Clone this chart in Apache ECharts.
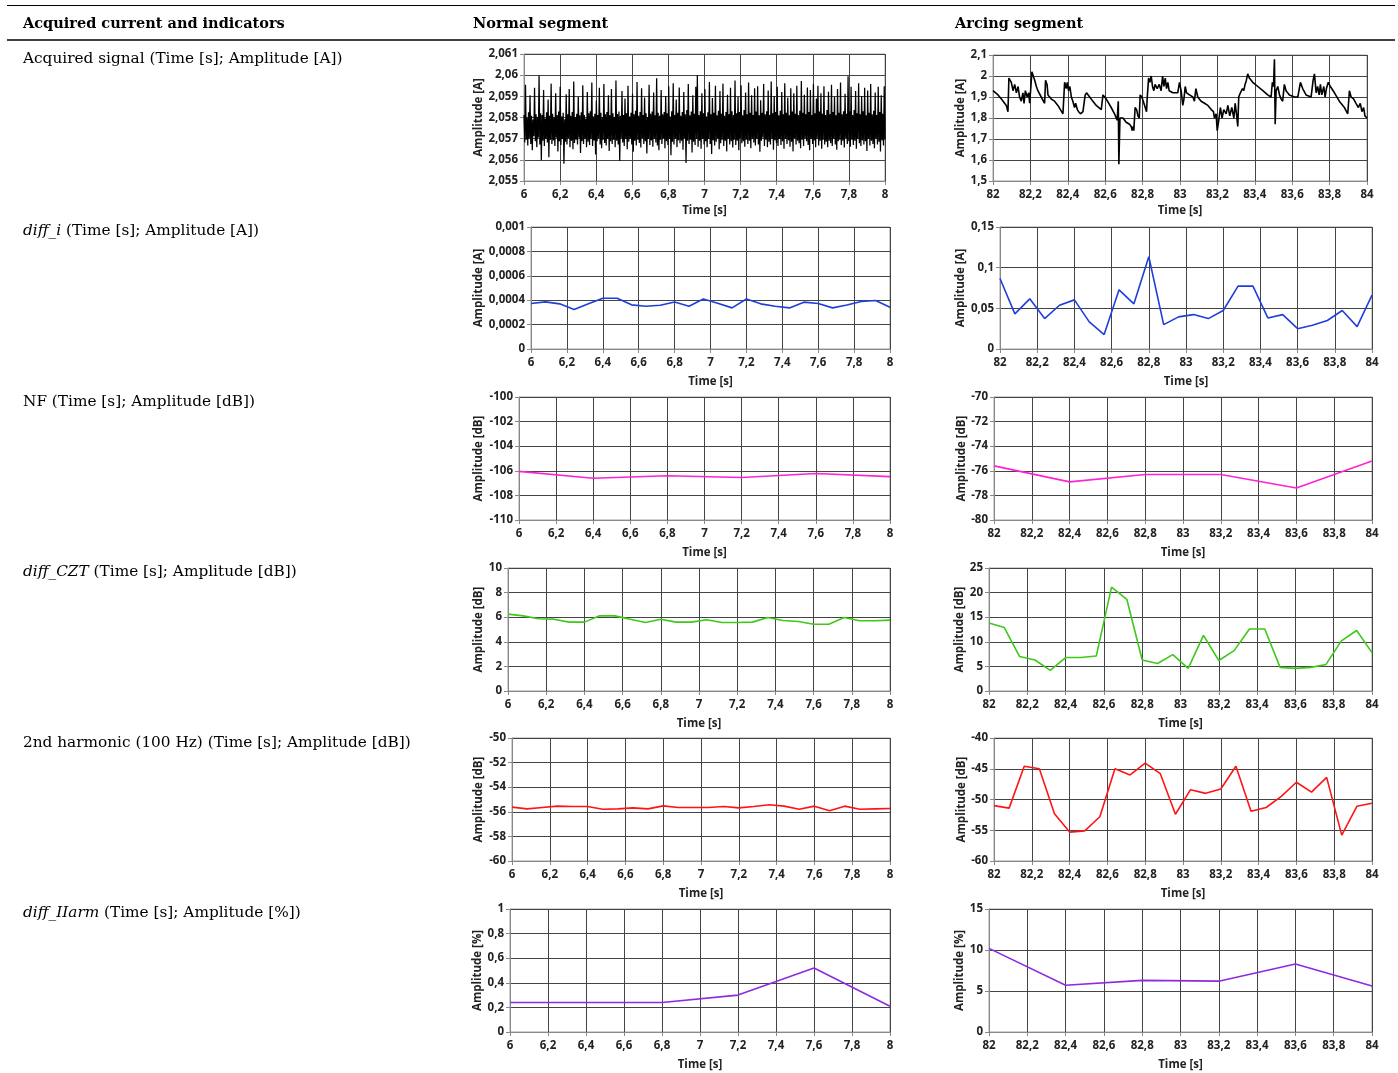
<!DOCTYPE html>
<html><head><meta charset="utf-8">
<script src="https://cdn.jsdelivr.net/npm/echarts/dist/echarts.min.js"></script>
<style>html,body{margin:0;padding:0;background:#fff}#c{width:1398px;height:1073px}</style>
</head><body><div id="c"></div>
<script>
// ---------------- DATA ----------------
const headers = ['Acquired current and indicators', 'Normal segment', 'Arcing segment'];
const rowLabels = [
  'Acquired signal (Time [s]; Amplitude [A])',
  '{i|diff_i} (Time [s]; Amplitude [A])',
  'NF (Time [s]; Amplitude [dB])',
  '{i|diff_CZT} (Time [s]; Amplitude [dB])',
  '2nd harmonic (100 Hz) (Time [s]; Amplitude [dB])',
  '{i|diff_IIarm} (Time [s]; Amplitude [%])'
];
const yUnits = ['[A]', '[A]', '[dB]', '[dB]', '[dB]', '[%]'];

// acquired signal, normal segment (6 s .. 8 s, uniform sampling)
const normalSignal = [
2.05812,2.05682,2.05955,2.05695,2.05798,2.05668,2.05825,2.05702,2.05905,2.05675,
2.05808,2.05645,2.05790,2.05712,2.05940,2.05688,2.05815,2.05660,2.05802,2.05705,
2.05998,2.05672,2.05820,2.05598,2.05812,2.05690,2.05930,2.05665,2.05795,2.05700,
2.05825,2.05682,2.05885,2.05612,2.05808,2.05695,2.05960,2.05675,2.05818,2.05692,
2.05800,2.05665,2.05915,2.05705,2.05812,2.05640,2.05828,2.05688,2.05945,2.05670,
2.05805,2.05698,2.05822,2.05582,2.05792,2.05685,2.05910,2.05672,2.05815,2.05702,
2.05935,2.05660,2.05808,2.05690,2.05826,2.05650,2.05970,2.05680,2.05802,2.05695,
2.05818,2.05672,2.05898,2.05705,2.05810,2.05632,2.05825,2.05688,2.05952,2.05675,
2.05812,2.05700,2.05795,2.05660,2.05920,2.05685,2.05820,2.05670,2.05830,2.05698,
2.05965,2.05665,2.05805,2.05692,2.05818,2.05625,2.05880,2.05688,2.05812,2.05702,
2.05940,2.05672,2.05822,2.05655,2.05800,2.05695,2.05958,2.05680,2.05815,2.05668,
2.05826,2.05700,2.05905,2.05642,2.05810,2.05688,2.05935,2.05675,2.05820,2.05695,
2.05802,2.05660,2.05975,2.05690,2.05816,2.05672,2.05828,2.05595,2.05808,2.05702,
2.05925,2.05682,2.05812,2.05665,2.05890,2.05698,2.05820,2.05650,2.05950,2.05685,
2.05805,2.05700,2.05822,2.05672,2.05912,2.05638,2.05815,2.05690,2.05832,2.05668,
2.05968,2.05695,2.05808,2.05680,2.05826,2.05658,2.05938,2.05702,2.05812,2.05675,
2.05895,2.05688,2.05820,2.05630,2.05802,2.05698,2.05955,2.05670,2.05818,2.05692,
2.05828,2.05662,2.05918,2.05700,2.05810,2.05682,2.05985,2.05668,2.05822,2.05645,
2.05808,2.05695,2.05930,2.05675,2.05815,2.05702,2.05826,2.05655,2.05902,2.05688,
2.05820,2.05670,2.05948,2.05698,2.05805,2.05622,2.05830,2.05685,2.05962,2.05672,
2.05812,2.05700,2.05885,2.05660,2.05822,2.05692,2.05942,2.05678,2.05808,2.05690,
2.05826,2.05648,2.05920,2.05702,2.05815,2.05585,2.05835,2.05690,2.05958,2.05675,
2.05810,2.05695,2.05828,2.05635,2.05905,2.05685,2.05818,2.05670,2.05945,2.05700,
2.06000,2.05662,2.05812,2.05690,2.05830,2.05652,2.05915,2.05698,2.05820,2.05672,
2.05935,2.05688,2.05805,2.05660,2.05825,2.05700,2.05968,2.05675,2.05815,2.05628,
2.05892,2.05692,2.05822,2.05668,2.05950,2.05685,2.05810,2.05702,2.05832,2.05650,
2.05925,2.05678,2.05818,2.05695,2.05960,2.05665,2.05808,2.05690,2.05826,2.05640,
2.05908,2.05700,2.05815,2.05672,2.05940,2.05688,2.05830,2.05658,2.05812,2.05695,
2.05975,2.05670,2.05820,2.05690,2.05898,2.05645,2.05826,2.05702,2.05952,2.05678,
2.05810,2.05688,2.05835,2.05662,2.05918,2.05695,2.05815,2.05675,2.05965,2.05690,
2.05822,2.05655,2.05905,2.05700,2.05812,2.05682,2.05938,2.05668,2.05828,2.05698,
2.05948,2.05672,2.05810,2.05638,2.05882,2.05690,2.05822,2.05705,2.05958,2.05665,
2.05815,2.05695,2.05830,2.05660,2.05928,2.05685,2.05812,2.05672,2.05970,2.05700,
2.05820,2.05648,2.05902,2.05692,2.05826,2.05678,2.05945,2.05665,2.05810,2.05698,
2.05832,2.05670,2.05920,2.05688,2.05815,2.05652,2.05962,2.05700,2.05822,2.05675,
2.05895,2.05692,2.05810,2.05662,2.05938,2.05685,2.05828,2.05640,2.05915,2.05702,
2.05818,2.05672,2.05950,2.05690,2.05812,2.05678,2.05832,2.05655,2.05972,2.05695,
2.05822,2.05665,2.05908,2.05702,2.05815,2.05688,2.05942,2.05670,2.05826,2.05645,
2.05930,2.05698,2.05812,2.05675,2.05958,2.05692,2.05820,2.05660,2.05890,2.05700,
2.05950,2.05668,2.05828,2.05690,2.05915,2.05652,2.05818,2.05695,2.05948,2.05672,
2.05812,2.05685,2.05835,2.05660,2.05922,2.05690,2.05815,2.05678,2.05955,2.05665,
2.05826,2.05700,2.05898,2.05672,2.05810,2.05648,2.05935,2.05688,2.05822,2.05695,
2.05965,2.05670,2.05815,2.05690,2.05830,2.05658,2.05912,2.05702,2.05818,2.05675,
2.05995,2.05688,2.05828,2.05662,2.05945,2.05695,2.05812,2.05670,2.05835,2.05690,
2.05925,2.05652,2.05820,2.05700,2.05962,2.05678,2.05815,2.05665,2.05902,2.05692,
2.05830,2.05672,2.05940,2.05688,2.05810,2.05642,2.05928,2.05698,2.05822,2.05668,
2.05958,2.05690,2.05815,2.05675,2.05832,2.05655,2.05918,2.05700,2.05812,2.05672,
2.05945,2.05685,2.05826,2.05640,2.05905,2.05692,2.05818,2.05668,2.05948,2.05695
];

// acquired signal, arcing segment
const arcSignalTime = [
82.000,82.027,82.045,82.062,82.071,82.080,82.085,82.098,82.107,82.116,82.125,82.134,82.142,82.151,82.160,82.166,82.173,82.183,82.191,82.196,
82.201,82.208,82.223,82.232,82.240,82.258,82.276,82.281,82.289,82.294,82.312,82.329,82.347,82.374,82.383,82.392,82.397,82.404,82.411,82.419,
82.427,82.436,82.442,82.451,82.458,82.468,82.481,82.493,82.500,82.525,82.552,82.579,82.588,82.606,82.632,82.650,82.659,82.664,82.670,82.673,
82.679,82.695,82.712,82.730,82.739,82.744,82.750,82.753,82.760,82.768,82.775,82.782,82.787,82.796,82.807,82.814,82.821,82.825,82.832,82.839,
82.846,82.853,82.860,82.867,82.878,82.889,82.899,82.907,82.914,82.921,82.928,82.935,82.942,82.962,82.988,82.997,83.006,83.015,83.021,83.028,
83.035,83.051,83.069,83.077,83.085,83.095,83.113,83.131,83.149,83.167,83.179,83.184,83.193,83.199,83.206,83.216,83.225,83.234,83.247,83.256,
83.266,83.277,83.288,83.295,83.302,83.309,83.314,83.323,83.334,83.341,83.348,83.355,83.362,83.371,83.389,83.416,83.443,83.469,83.487,83.494,
83.500,83.505,83.509,83.514,83.523,83.532,83.541,83.549,83.558,83.567,83.585,83.612,83.630,83.644,83.656,83.674,83.701,83.712,83.719,83.728,
83.736,83.744,83.751,83.758,83.769,83.776,83.783,83.793,83.804,83.826,83.852,83.879,83.897,83.906,83.915,83.929,83.941,83.954,83.964,83.973,
83.982,83.989,84.000
];
const arcSignal = [
1.93,1.91,1.89,1.87,1.86,1.83,1.99,1.97,1.93,1.96,1.92,1.95,1.90,1.88,1.92,1.87,1.93,1.90,1.92,1.87,
1.93,2.02,1.98,1.95,1.93,1.90,1.87,1.98,1.96,1.91,1.89,1.88,1.86,1.82,1.97,1.94,1.97,1.93,1.95,1.90,
1.88,1.85,1.87,1.84,1.83,1.82,1.83,1.91,1.92,1.89,1.86,1.84,1.91,1.89,1.85,1.82,1.80,1.79,1.88,1.58,
1.80,1.80,1.78,1.77,1.76,1.74,1.76,1.74,1.85,1.84,1.81,1.80,1.91,1.90,1.87,1.85,1.83,1.90,1.99,1.97,
2.00,1.95,1.93,1.96,1.94,1.96,1.93,2.00,1.95,1.99,1.94,1.97,1.93,1.92,1.92,1.97,1.93,1.86,1.89,1.95,
1.92,1.91,1.90,1.88,1.94,1.90,1.88,1.87,1.86,1.84,1.83,1.80,1.82,1.74,1.78,1.85,1.80,1.84,1.82,1.86,
1.81,1.85,1.80,1.87,1.82,1.76,1.90,1.92,1.94,1.93,1.96,1.98,2.01,1.99,1.97,1.95,1.93,1.91,1.90,1.97,
1.95,2.08,1.77,1.93,1.95,1.91,1.89,1.88,1.96,1.93,1.91,1.90,1.90,1.97,1.94,1.91,1.90,1.98,2.01,1.92,
1.95,1.91,1.96,1.91,1.95,1.90,1.94,1.97,1.95,1.92,1.88,1.85,1.82,1.93,1.90,1.89,1.87,1.85,1.87,1.83,
1.85,1.81,1.80
];

// indicator time stamps
const tNorm8 = [6,6.08,6.16,6.24,6.32,6.40,6.48,6.56,6.64,6.72,6.80,6.88,6.96,7.04,7.12,7.20,7.28,7.36,7.44,7.52,7.60,7.68,7.76,7.84,7.92,8];
const tArc8 = [82,82.08,82.16,82.24,82.32,82.40,82.48,82.56,82.64,82.72,82.80,82.88,82.96,83.04,83.12,83.20,83.28,83.36,83.44,83.52,83.60,83.68,83.76,83.84,83.92,84];
const tNorm40 = [6,6.4,6.8,7.2,7.6,8];
const tArc40 = [82,82.4,82.8,83.2,83.6,84];

const diffINormal = [0.000373,0.000386,0.000370,0.000323,0.000370,0.000416,0.000416,0.000362,0.000350,0.000359,0.000386,0.000350,0.000410,0.000375,0.000337,0.000410,0.000370,0.000350,0.000337,0.000384,0.000373,0.000337,0.000360,0.000390,0.000397,0.000342];
const diffIArc = [0.0867,0.0432,0.0617,0.0374,0.0538,0.0604,0.0333,0.0177,0.0727,0.0555,0.1134,0.0300,0.0395,0.0423,0.0374,0.0473,0.0773,0.0773,0.0382,0.0423,0.0250,0.0292,0.0350,0.0473,0.0275,0.0662];
const nfNormal = [-106.05,-106.6,-106.4,-106.55,-106.22,-106.47];
const nfArc = [-75.6,-76.9,-76.3,-76.3,-77.4,-75.2];
const cztNormal = [6.25,6.11,5.87,5.84,5.60,5.60,6.11,6.11,5.84,5.57,5.84,5.60,5.60,5.79,5.57,5.57,5.60,5.98,5.73,5.65,5.43,5.43,5.98,5.71,5.71,5.76];
const cztArc = [13.8,12.9,7.0,6.3,4.2,6.8,6.8,7.1,21.1,18.6,6.3,5.6,7.4,4.6,11.3,6.2,8.2,12.6,12.6,4.8,4.6,4.8,5.4,10.2,12.3,7.8];
const h2Normal = [-55.62,-55.76,-55.65,-55.54,-55.57,-55.57,-55.79,-55.76,-55.68,-55.76,-55.52,-55.65,-55.65,-55.65,-55.57,-55.68,-55.57,-55.43,-55.54,-55.79,-55.54,-55.92,-55.54,-55.79,-55.76,-55.73];
const h2Arc = [-51.0,-51.4,-44.6,-45.0,-52.3,-55.3,-55.1,-52.8,-45.0,-46.0,-44.1,-45.8,-52.4,-48.4,-49.0,-48.3,-44.6,-51.9,-51.3,-49.5,-47.2,-48.8,-46.4,-55.8,-51.1,-50.6];
const iarmNormal = [0.24,0.24,0.24,0.30,0.52,0.21];
const iarmArc = [10.2,5.7,6.3,6.2,8.3,5.6];

// axis ranges [min, max, interval]
const yRanges = [
  [2.055, 2.061, 0.001], [1.5, 2.1, 0.1],
  [0, 0.001, 0.0002], [0, 0.15, 0.05],
  [-110, -100, 2], [-80, -70, 2],
  [0, 10, 2], [0, 25, 5],
  [-60, -50, 2], [-60, -40, 5],
  [0, 1, 0.2], [0, 15, 5]
];

// ---------------- LAYOUT / STYLE ----------------
const serif = "'DejaVu Serif', serif";
const sans = "'Open Sans', 'Noto Sans', sans-serif";
const grids = [
  {left: 524, top: 54, width: 361, height: 127, yGap: 39, xGap: 24},
  {left: 993, top: 55, width: 374, height: 126, yGap: 25, xGap: 24},
  {left: 531, top: 227, width: 359, height: 122, yGap: 45, xGap: 27},
  {left: 1000, top: 227, width: 372, height: 122, yGap: 32, xGap: 27},
  {left: 519, top: 397, width: 371, height: 123, yGap: 34, xGap: 27},
  {left: 994, top: 397, width: 378, height: 123, yGap: 26, xGap: 27},
  {left: 508, top: 568, width: 382, height: 123, yGap: 23, xGap: 27},
  {left: 989, top: 568, width: 383, height: 123, yGap: 21, xGap: 27},
  {left: 512, top: 738, width: 378, height: 123, yGap: 27, xGap: 27},
  {left: 994, top: 738, width: 378, height: 123, yGap: 26, xGap: 27},
  {left: 510, top: 909, width: 380, height: 123, yGap: 25, xGap: 27},
  {left: 989, top: 909, width: 383, height: 123, yGap: 21, xGap: 27}
];
const colors = ['#000000', '#1f3fdc', '#ff22d2', '#3ec81a', '#ff1414', '#8e2ae0'];

function zip(t, v) { return t.map((x, i) => [x, v[i]]); }
const normalSignalTime = normalSignal.map((_, i) => 6 + 2 * i / (normalSignal.length - 1));
const seriesData = [
  zip(normalSignalTime, normalSignal), zip(arcSignalTime, arcSignal),
  zip(tNorm8, diffINormal), zip(tArc8, diffIArc),
  zip(tNorm40, nfNormal), zip(tArc40, nfArc),
  zip(tNorm8, cztNormal), zip(tArc8, cztArc),
  zip(tNorm8, h2Normal), zip(tArc8, h2Arc),
  zip(tNorm40, iarmNormal), zip(tArc40, iarmArc)
];
const fmt = v => String(Math.round(v * 1e6) / 1e6).replace('.', ',');

const gridOpt = [], xAxes = [], yAxes = [], series = [];
grids.forEach((g, i) => {
  const row = Math.floor(i / 2), arc = i % 2 === 1;
  gridOpt.push({left: g.left, top: g.top, width: g.width, height: g.height, show: true,
    borderColor: '#a0a0a0', borderWidth: 1, containLabel: false});
  const lbl = {fontFamily: sans, fontWeight: 'bold', fontSize: 11.5, color: '#222'};
  xAxes.push({
    type: 'value', gridIndex: i, min: arc ? 82 : 6, max: arc ? 84 : 8, interval: 0.2,
    name: 'Time [s]', nameLocation: 'middle', nameGap: g.xGap,
    nameTextStyle: {fontFamily: sans, fontWeight: 'bold', fontSize: 11.5, color: '#222'},
    axisLine: {show: true, lineStyle: {color: '#888', width: 1}},
    axisTick: {show: true, length: 4, lineStyle: {color: '#888'}},
    axisLabel: Object.assign({margin: 8, formatter: fmt}, lbl),
    splitLine: {show: true, lineStyle: {color: '#444', width: 1}}
  });
  const r = yRanges[i];
  yAxes.push({
    type: 'value', gridIndex: i, min: r[0], max: r[1], interval: r[2],
    name: 'Amplitude ' + yUnits[row], nameLocation: 'middle', nameGap: g.yGap,
    nameTextStyle: {fontFamily: sans, fontWeight: 'bold', fontSize: 11.5, color: '#222'},
    axisLine: {show: true, lineStyle: {color: '#888', width: 1}},
    axisTick: {show: true, length: 4, lineStyle: {color: '#888'}},
    axisLabel: Object.assign({margin: 6, formatter: fmt}, lbl),
    splitLine: {show: true, lineStyle: {color: '#444', width: 1}}
  });
  series.push({
    type: 'line', xAxisIndex: i, yAxisIndex: i, data: seriesData[i],
    showSymbol: false, symbol: 'none', animation: false, clip: true,
    lineStyle: {color: colors[row], width: i === 0 ? 1.25 : (i === 1 ? 1.6 : 1.6)}
  });
});

const titles = [];
const headerX = [23, 473, 955];
headers.forEach((h, i) => titles.push({text: h, left: headerX[i], top: 17, padding: 0,
  textStyle: {fontFamily: serif, fontWeight: 'bold', fontSize: 14.5, color: '#000'}}));
const rowTop = [52, 224, 395, 565, 736, 906];
rowLabels.forEach((t, i) => titles.push({text: t, left: 23, top: rowTop[i], padding: 0,
  textStyle: {fontFamily: serif, fontWeight: 'normal', fontSize: 15.3, color: '#000',
    rich: {i: {fontFamily: serif, fontStyle: 'italic', fontSize: 15.3, color: '#000'}}}}));

const chart = echarts.init(document.getElementById('c'), null, {renderer: 'canvas'});
chart.setOption({
  animation: false,
  backgroundColor: '#fff',
  title: titles,
  grid: gridOpt, xAxis: xAxes, yAxis: yAxes, series: series,
  graphic: [
    {type: 'line', shape: {x1: 7, y1: 5.5, x2: 1395, y2: 5.5}, style: {stroke: '#000', lineWidth: 1}},
    {type: 'line', shape: {x1: 7, y1: 40, x2: 1395, y2: 40}, style: {stroke: '#000', lineWidth: 1.5}}
  ]
});
</script></body></html>
